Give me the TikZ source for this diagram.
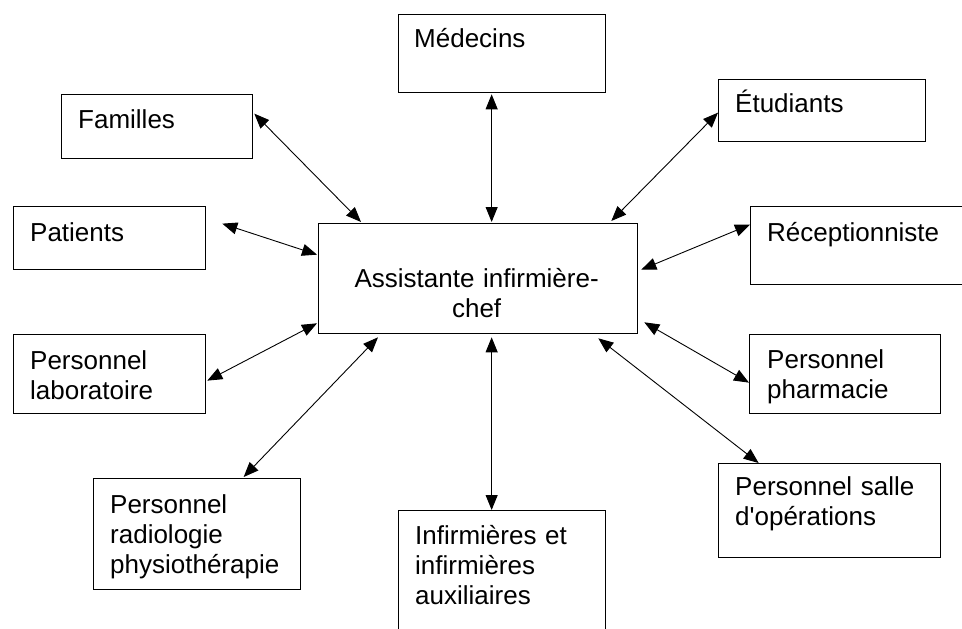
\documentclass[tikz,border=0pt]{standalone}
\usepackage{fontspec}
\setmainfont{Liberation Sans}
\usepackage{tikz}
\usetikzlibrary{arrows.meta, positioning, calc}

\begin{document}
\begin{tikzpicture}[
  x=1pt, y=-1pt,
  box/.style={draw, line width=1.3pt, anchor=north west, inner sep=0pt},
  txt/.style={anchor=base west, inner sep=0pt, text width=240pt, align=left,
              font=\fontsize{26}{30}\selectfont},
  ctxt/.style={anchor=base, inner sep=0pt, text width=300pt, align=center,
               font=\fontsize{26}{30}\selectfont},
  arr/.style={{Triangle[length=15pt,width=12pt]}-{Triangle[length=15pt,width=12pt]},
              line width=0.9pt}
]
  \useasboundingbox (0,0) rectangle (962,629);

  \node[box, minimum width=319pt, minimum height=110pt] (chef) at (318,223) {};
  \node[ctxt] (chefT) at ([xshift=-1.5pt,yshift=-64pt]chef.north) {Assistante infirmière-\\chef};

  \node[box, minimum width=207pt, minimum height=78pt] (med) at (398,14) {};
  \node[txt] (medT) at ([xshift=16pt,yshift=-33pt]med.north west) {Médecins};

  \node[box, minimum width=191pt, minimum height=64pt] (fam) at (61,94) {};
  \node[txt] (famT) at ([xshift=17pt,yshift=-34pt]fam.north west) {Familles};

  \node[box, minimum width=207pt, minimum height=62pt] (etu) at (718,79) {};
  \node[txt] (etuT) at ([xshift=17pt,yshift=-33pt]etu.north west) {Étudiants};

  \node[box, minimum width=192pt, minimum height=63pt] (pat) at (13,206) {};
  \node[txt] (patT) at ([xshift=17pt,yshift=-35pt]pat.north west) {Patients};

  \node[box, minimum width=240pt, minimum height=78pt] (rec) at (750,206) {};
  \node[txt] (recT) at ([xshift=17pt,yshift=-35pt]rec.north west) {Réceptionniste};

  \node[box, minimum width=192pt, minimum height=79pt] (lab) at (13,334) {};
  \node[txt] (labT) at ([xshift=17pt,yshift=-35pt]lab.north west) {Personnel\\laboratoire};

  \node[box, minimum width=191pt, minimum height=79pt] (pha) at (749,334) {};
  \node[txt] (phaT) at ([xshift=18pt,yshift=-34pt]pha.north west) {Personnel\\pharmacie};

  \node[box, minimum width=207pt, minimum height=111pt] (rad) at (93,478) {};
  \node[txt] (radT) at ([xshift=17pt,yshift=-35pt]rad.north west) {Personnel\\radiologie\\physiothérapie};

  \node[box, minimum width=207pt, minimum height=140pt] (inf) at (398,510) {};
  \node[txt] (infT) at ([xshift=17pt,yshift=-34pt]inf.north west) {Infirmières et\\infirmières\\auxiliaires};

  \node[box, minimum width=222pt, minimum height=94pt] (sal) at (718,463) {};
  \node[txt] (salT) at ([xshift=17pt,yshift=-32pt]sal.north west) {Personnel salle\\d\textquotesingle opérations};

  % liens avec l'assistante infirmiere-chef
  \draw[arr] ([xshift=1pt,yshift=13pt]fam.east) -- ([xshift=43pt,yshift=1pt]chef.north west);
  \draw[arr] ([xshift=-10.5pt,yshift=-1pt]med.south) -- ([xshift=13.5pt,yshift=1pt]chef.north);
  \draw[arr] ([yshift=-2pt]etu.west) -- ([xshift=-27pt,yshift=2pt]chef.north east);
  \draw[arr] ([xshift=16pt,yshift=14.5pt]pat.east) -- ([xshift=-1pt,yshift=24pt]chef.west);
  \draw[arr] ([yshift=21pt]rec.west) -- ([xshift=3pt,yshift=9pt]chef.east);
  \draw[arr] ([xshift=1pt,yshift=-6.5pt]lab.east) -- ([xshift=-1pt,yshift=11pt]chef.south west);
  \draw[arr] ([xshift=6pt,yshift=12pt]chef.south east) -- ([yshift=-8.5pt]pha.west);
  \draw[arr] ([xshift=46.5pt,yshift=1pt]rad.north) -- ([xshift=60pt,yshift=-3pt]chef.south west);
  \draw[arr] ([xshift=13.5pt,yshift=-3pt]chef.south) -- ([xshift=-10.5pt]inf.north);
  \draw[arr] ([xshift=-40pt,yshift=-4pt]chef.south east) -- ([xshift=-71pt]sal.north);
\end{tikzpicture}
\end{document}
